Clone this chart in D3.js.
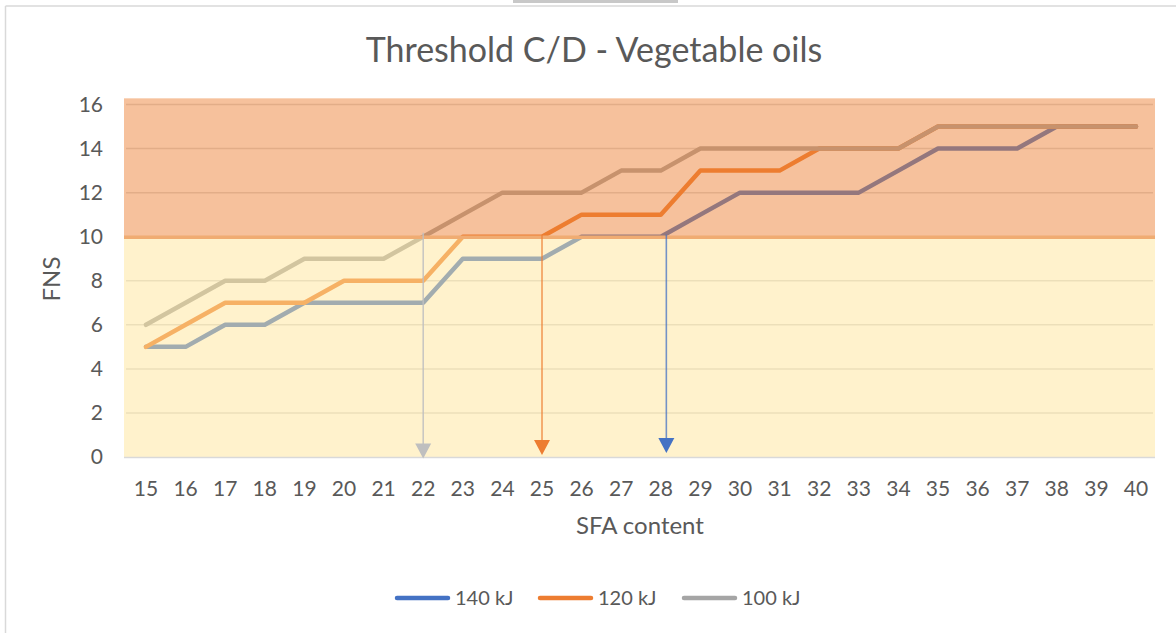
<!DOCTYPE html>
<html>
<head>
<meta charset="utf-8">
<script src="https://cdn.jsdelivr.net/npm/d3@7/dist/d3.min.js"></script>
<style>
  html, body { margin: 0; padding: 0; background: #fff; }
  svg { display: block; font-family: Lato, "Open Sans", sans-serif; }
</style>
</head>
<body>
<svg id="chart" width="1176" height="633"></svg>
<script>
// ---- data ----
const categories = [15,16,17,18,19,20,21,22,23,24,25,26,27,28,29,30,31,32,33,34,35,36,37,38,39,40];
const series140 = [5,5,6,6,7,7,7,7,9,9,9,10,10,10,11,12,12,12,12,13,14,14,14,15,15,15];
const series120 = [5,6,7,7,7,8,8,8,10,10,10,11,11,11,13,13,13,14,14,14,15,15,15,15,15,15];
const series100 = [6,7,8,8,9,9,9,10,11,12,12,12,13,13,14,14,14,14,14,14,15,15,15,15,15,15];
const seriesNames = ["140 kJ", "120 kJ", "100 kJ"];
const seriesColors = ["#4472C4", "#ED7D31", "#A5A5A5"];
const yTicks = [0,2,4,6,8,10,12,14,16];
const threshold = 10;
const bandTop = 16.28;
const arrowX = [22, 25, 28.14];          // where each threshold arrow drops (SFA content)
const arrowColors = ["#BFBFBF", "#ED7D31", "#4472C4"];
const titleText = "Threshold C/D - Vegetable oils";
const xTitle = "SFA content";
const yTitle = "FNS";

// ---- layout ----
const svg = d3.select("#chart");
const plotL = 124, plotR = 1155;
const x = d3.scaleLinear().domain([15, 40]).range([146, 1136]);
const y = d3.scaleLinear().domain([0, 16]).range([457, 104.5]);
const textColor = "#595959";

// chart frame decorations
svg.append("rect").attr("x", 513).attr("y", 0).attr("width", 165).attr("height", 3).attr("fill", "#C8C8C8");
svg.append("line").attr("x1", 5.5).attr("x2", 1176).attr("y1", 6).attr("y2", 6).attr("stroke", "#D9D9D9").attr("stroke-width", 1.5);
svg.append("line").attr("x1", 5.5).attr("x2", 5.5).attr("y1", 6).attr("y2", 633).attr("stroke", "#D9D9D9").attr("stroke-width", 1.5);

// title
svg.append("text").attr("x", 594).attr("y", 62).attr("text-anchor", "middle")
  .attr("font-size", 34).attr("fill", textColor).text(titleText);

// gridlines
svg.append("g").selectAll("line").data(yTicks.filter(d => d > 0)).join("line")
  .attr("x1", plotL + 2).attr("x2", plotR - 2)
  .attr("y1", d => y(d)).attr("y2", d => y(d))
  .attr("stroke", "#D9D9D9").attr("stroke-width", 1.5);

// series lines
const allSeries = [series140, series120, series100];
const lineGen = d3.line().x((d, i) => x(categories[i])).y(d => y(d));
svg.append("g").selectAll("path").data(allSeries).join("path")
  .attr("d", d => lineGen(d))
  .attr("fill", "none")
  .attr("stroke", (d, i) => seriesColors[i])
  .attr("stroke-width", 4.5)
  .attr("stroke-linecap", "round")
  .attr("stroke-linejoin", "round");

// translucent bands on top
svg.append("rect").attr("x", plotL).attr("width", plotR - plotL)
  .attr("y", y(threshold)).attr("height", y(0) - y(threshold))
  .attr("fill", "#FFE699").attr("fill-opacity", 0.5);
svg.append("rect").attr("x", plotL).attr("width", plotR - plotL)
  .attr("y", y(bandTop)).attr("height", y(threshold) - y(bandTop))
  .attr("fill", "#ED7D31").attr("fill-opacity", 0.48);
svg.append("line").attr("x1", plotL).attr("x2", plotR)
  .attr("y1", y(threshold) + 0.5).attr("y2", y(threshold) + 0.5)
  .attr("stroke", "#F0AC72").attr("stroke-width", 3.5);

// x axis line
svg.append("line").attr("x1", plotL).attr("x2", plotR).attr("y1", y(0) + 0.5).attr("y2", y(0) + 0.5)
  .attr("stroke", "#D9D9D9").attr("stroke-width", 1.5);

// arrows
const arrows = svg.append("g");
arrowX.forEach((ax, i) => {
  const px = x(ax);
  const tip = y(0) - (i === 0 ? -1.5 : (i === 1 ? 2 : 4));
  arrows.append("line").attr("x1", px).attr("x2", px)
    .attr("y1", y(threshold) - (i === 0 ? 4 : 2)).attr("y2", tip - 10)
    .attr("stroke", arrowColors[i]).attr("stroke-width", 1.6)
    .attr("stroke-opacity", i === 0 ? 0.85 : 0.75);
  arrows.append("path")
    .attr("d", `M${px - 8},${tip - 15} L${px + 8},${tip - 15} L${px},${tip} Z`)
    .attr("fill", arrowColors[i]);
});

// y axis labels
svg.append("g").selectAll("text").data(yTicks).join("text")
  .attr("x", 103).attr("y", d => y(d)).attr("dy", "0.35em")
  .attr("text-anchor", "end").attr("font-size", 21).attr("fill", textColor)
  .text(d => d);

// x axis labels
svg.append("g").selectAll("text").data(categories).join("text")
  .attr("x", d => x(d)).attr("y", 489).attr("dy", "0.35em")
  .attr("text-anchor", "middle").attr("font-size", 21).attr("fill", textColor)
  .text(d => d);

// axis titles
svg.append("text").attr("x", 640).attr("y", 526).attr("dy", "0.35em")
  .attr("text-anchor", "middle").attr("font-size", 24).attr("fill", textColor).text(xTitle);
svg.append("text").attr("transform", "translate(52,279) rotate(-90)").attr("dy", "0.35em")
  .attr("text-anchor", "middle").attr("font-size", 24).attr("fill", textColor).text(yTitle);

// legend
const legendX = [395, 538, 682];
const legend = svg.append("g");
seriesNames.forEach((name, i) => {
  legend.append("line").attr("x1", legendX[i] + 2).attr("x2", legendX[i] + 53)
    .attr("y1", 598).attr("y2", 598)
    .attr("stroke", seriesColors[i]).attr("stroke-width", 4.5).attr("stroke-linecap", "round");
  legend.append("text").attr("x", legendX[i] + 60).attr("y", 598).attr("dy", "0.35em")
    .attr("font-size", 20).attr("fill", textColor).text(name);
});
</script>
</body>
</html>
